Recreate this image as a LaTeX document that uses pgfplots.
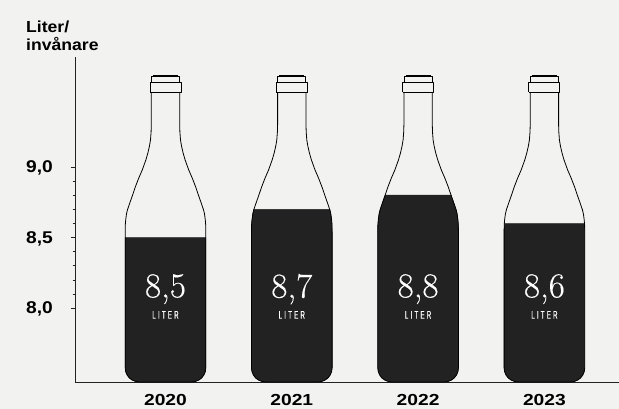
\documentclass[border=0pt]{standalone}
\usepackage{pgfplots}
\pgfplotsset{compat=1.18}
\usepackage{pgfplotstable}
\usepackage{fontspec}
\setmainfont{Liberation Sans}
\newfontfamily\labelfont{Liberation Sans}[FakeStretch=1.10]
\newfontfamily\tickfont{Liberation Sans}[FakeStretch=1.13]
\newfontfamily\xtickfont{Liberation Sans}[FakeStretch=1.2]
\newfontfamily\literfont{Liberation Sans}[FakeStretch=0.56,LetterSpace=20,FakeBold=0.5]
\newfontfamily\numfont{LMRoman10-Regular}[FakeBold=0.35]
\definecolor{bg}{HTML}{F2F2F0}
\definecolor{ink}{HTML}{222222}
% bottle outline: dx in category units, y in litre/inhabitant scale
\pgfplotstableread{
dx y
-0.1124 9.530
-0.1124 9.297
-0.1140 9.248
-0.1188 9.191
-0.1267 9.149
-0.1394 9.099
-0.1552 9.050
-0.1837 8.979
-0.2114 8.922
-0.2391 8.858
-0.2629 8.795
-0.2827 8.745
-0.3009 8.697
-0.3088 8.668
-0.3151 8.625
-0.3183 8.590
-0.3191 8.540
-0.3191 7.578
-0.3153 7.552
-0.3042 7.528
-0.2866 7.507
-0.2637 7.492
-0.2369 7.482
-0.2082 7.478
0.2082 7.478
0.2369 7.482
0.2637 7.492
0.2866 7.507
0.3042 7.528
0.3153 7.552
0.3191 7.578
0.3191 8.540
0.3183 8.590
0.3151 8.625
0.3088 8.668
0.3009 8.697
0.2827 8.745
0.2629 8.795
0.2391 8.858
0.2114 8.922
0.1837 8.979
0.1552 9.050
0.1394 9.099
0.1267 9.149
0.1188 9.191
0.1140 9.248
0.1124 9.297
0.1124 9.530
}\bottle
\pgfplotstableread{
dx y
-0.1227 9.530
0.1227 9.530
0.1227 9.600
-0.1227 9.600
-0.1227 9.530
}\collar
\pgfplotstableread{
dx y
-0.1110 9.600
-0.1110 9.640
0.1110 9.640
0.1110 9.600
}\cap
\pgfplotstableread{
dx y
-0.0990 9.648
0.0990 9.648
}\lip
\pgfplotstableread{
dx y
-0.3191 8.5
0.3191 8.5
0.3191 7.578
0.3153 7.552
0.3042 7.528
0.2866 7.507
0.2637 7.492
0.2369 7.482
0.2082 7.478
-0.2082 7.478
-0.2369 7.482
-0.2637 7.492
-0.2866 7.507
-0.3042 7.528
-0.3153 7.552
-0.3191 7.578
}\fillA
\pgfplotstableread{
dx y
-0.3009 8.7
0.3009 8.7
0.3088 8.668
0.3151 8.625
0.3183 8.590
0.3191 8.540
0.3191 7.578
0.3153 7.552
0.3042 7.528
0.2866 7.507
0.2637 7.492
0.2369 7.482
0.2082 7.478
-0.2082 7.478
-0.2369 7.482
-0.2637 7.492
-0.2866 7.507
-0.3042 7.528
-0.3153 7.552
-0.3191 7.578
-0.3191 8.540
-0.3183 8.590
-0.3151 8.625
-0.3088 8.668
}\fillB
\pgfplotstableread{
dx y
-0.2613 8.8
0.2613 8.8
0.2827 8.745
0.3009 8.697
0.3088 8.668
0.3151 8.625
0.3183 8.590
0.3191 8.540
0.3191 7.578
0.3153 7.552
0.3042 7.528
0.2866 7.507
0.2637 7.492
0.2369 7.482
0.2082 7.478
-0.2082 7.478
-0.2369 7.482
-0.2637 7.492
-0.2866 7.507
-0.3042 7.528
-0.3153 7.552
-0.3191 7.578
-0.3191 8.540
-0.3183 8.590
-0.3151 8.625
-0.3088 8.668
-0.3009 8.697
-0.2827 8.745
}\fillC
\pgfplotstableread{
dx y
-0.3175 8.6
0.3175 8.6
0.3191 8.540
0.3191 7.578
0.3153 7.552
0.3042 7.528
0.2866 7.507
0.2637 7.492
0.2369 7.482
0.2082 7.478
-0.2082 7.478
-0.2369 7.482
-0.2637 7.492
-0.2866 7.507
-0.3042 7.528
-0.3153 7.552
-0.3191 7.578
-0.3191 8.540
}\fillD
\begin{document}
\begin{tikzpicture}[x=1pt,y=1pt]
\fill[bg] (0,0) rectangle (619,409);
\path[use as bounding box] (0,0) rectangle (619,409);
\begin{axis}[
  at={(75pt,27pt)}, anchor=south west,
  scale only axis, width=544pt, height=325pt,
  xmin=-0.7165, xmax=3.5906, ymin=7.478, ymax=9.778,
  axis x line=bottom, axis y line=left,
  axis line style={ink,line width=0.9pt,-},
  xtick={0,1,2,3}, xticklabels={2020,2021,2022,2023},
  ytick={8,8.5,9},
  yticklabels={8{,}0,8{,}5,9{,}0},
  extra y ticks={8.1,8.2,8.3,8.4,8.6,8.7,8.8,8.9},
  extra y tick labels={},
  extra y tick style={major tick length=2.5pt, tick style={ink,line width=0.7pt}},
  major tick length=4.5pt,
  tick align=outside,
  xtick style={draw=none},
  ytick style={ink,line width=0.7pt},
  clip=false,
  /pgf/number format/assume math mode=true,
  xticklabel style={font=\xtickfont\bfseries\fontsize{16}{18}\selectfont, text=black, inner sep=0pt, yshift=-8pt},
  yticklabel style={font=\tickfont\bfseries\fontsize{17}{19}\selectfont, text=black, inner sep=0pt, xshift=-17.5pt, yshift=-1pt},
]
\addplot[fill=ink,draw=ink,line width=0.4pt] table[x expr=0+\thisrow{dx},y=y]{\fillA} -- cycle;
\addplot[fill=ink,draw=ink,line width=0.4pt] table[x expr=1+\thisrow{dx},y=y]{\fillB} -- cycle;
\addplot[fill=ink,draw=ink,line width=0.4pt] table[x expr=2+\thisrow{dx},y=y]{\fillC} -- cycle;
\addplot[fill=ink,draw=ink,line width=0.4pt] table[x expr=3+\thisrow{dx},y=y]{\fillD} -- cycle;
\foreach \k in {0,1,2,3}{
  \addplot[draw=black,line width=0.8pt,line join=round] table[x expr=\k+\thisrow{dx},y=y]{\bottle};
  \addplot[draw=black,line width=0.9pt,line join=round] table[x expr=\k+\thisrow{dx},y=y]{\collar};
  \addplot[draw=black,line width=0.9pt,line join=round] table[x expr=\k+\thisrow{dx},y=y]{\cap};
  \addplot[draw=black,line width=1.5pt] table[x expr=\k+\thisrow{dx},y=y]{\lip};
}
\foreach \k/\v in {0/8{,}5,1/8{,}7,2/8{,}8,3/8{,}6}{
  \edef\temp{\noexpand\node[text=white,font=\noexpand\numfont\noexpand\fontsize{35}{37}\noexpand\selectfont,inner sep=0pt] at (axis cs:\k,8.135) {\v};
  \noexpand\node[text=white,font=\noexpand\literfont\noexpand\fontsize{11}{12}\noexpand\selectfont,inner sep=0pt] at (axis cs:\k,7.953) {LITER};}
  \temp
}
\end{axis}
\node[anchor=west,font=\labelfont\bfseries\fontsize{16}{18}\selectfont,inner sep=0pt] at (26,382) {Liter/};
\node[anchor=west,font=\labelfont\bfseries\fontsize{16}{18}\selectfont,inner sep=0pt] at (26,365) {invånare};
\end{tikzpicture}
\end{document}
